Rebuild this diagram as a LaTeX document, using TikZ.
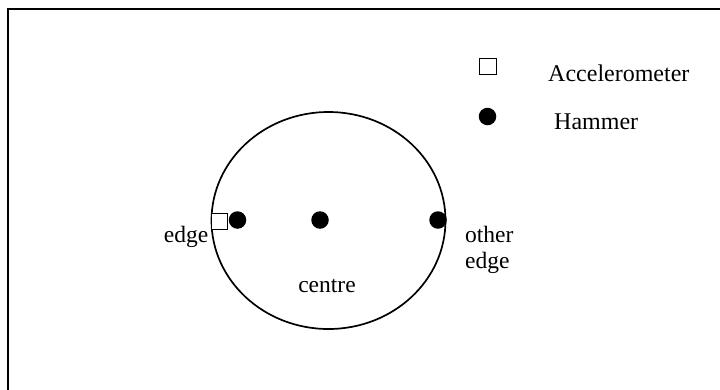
\documentclass[tikz,border=0pt]{standalone}
\usepackage{fontspec}
\setmainfont{Liberation Serif}
\usetikzlibrary{shapes.geometric}
\begin{document}
\begin{tikzpicture}[x=1pt,y=-1pt,
  lbl/.style={inner sep=0pt, font=\fontsize{23.5}{26}\selectfont},
  leg/.style={inner sep=0pt, font=\fontsize{24}{26}\selectfont},
  dot/.style={circle, fill=black, inner sep=0pt, minimum size=17.5pt},
  accel/.style={draw=black, line width=1.4pt, fill=white, inner sep=0pt, minimum size=16.5pt},
  plate/.style={draw=black, line width=1.7pt, ellipse, inner sep=0pt, minimum width=234pt, minimum height=217pt}]
\useasboundingbox (0,0) rectangle (720,389);
\fill[white] (0,0) rectangle (720,389);
\draw[line width=2pt] (7.5,400) |- (730,8.5);
\node[plate] (plate) at (328.5,220.5) {};
\node[dot] (hedge) at (237.5,220) {};
\node[accel] (acc) at (219.5,221.5) {};
\node[dot] (hcentre) at (320,220) {};
\node[dot] (hother) at (438,220) {};
\node[lbl, anchor=base east] (edgelbl) at (208.5,242) {edge};
\node[lbl, anchor=base] (centrelbl) at (327,292) {centre};
\node[lbl, anchor=base west, align=left] (otherlbl) at (465,268.5) {other\\edge};
\node[accel] (legacc) at (488,66.5) {};
\node[dot] (leghammer) at (487.5,116.5) {};
\node[leg, anchor=base west] (accname) at (548,81) {Accelerometer};
\node[leg, anchor=base west] (hamname) at (554,129) {Hammer};
\end{tikzpicture}
\end{document}
